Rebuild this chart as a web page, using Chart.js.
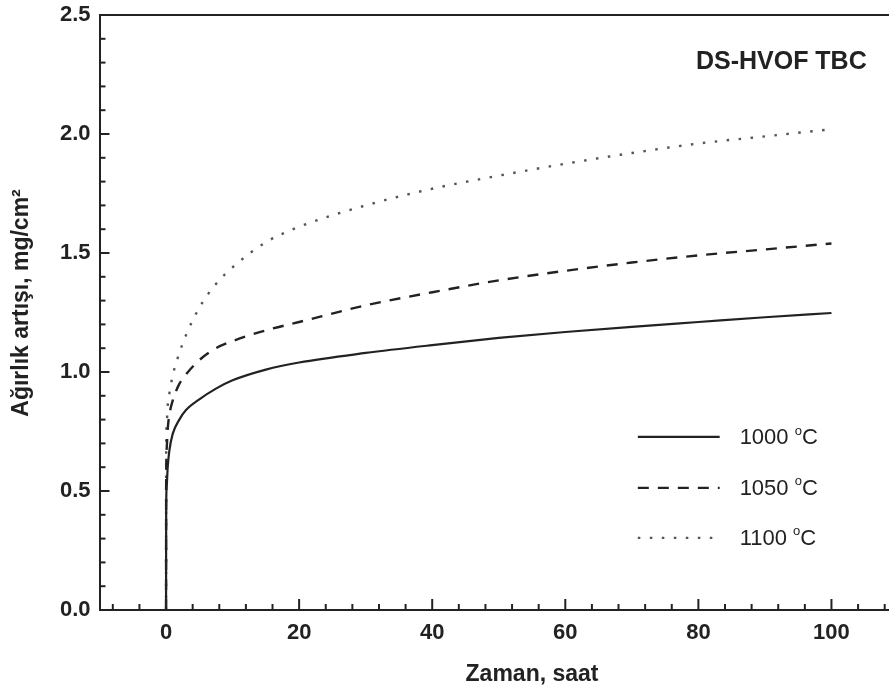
<!DOCTYPE html>
<html>
<head>
<meta charset="utf-8">
<script src="https://cdn.jsdelivr.net/npm/chart.js@4/dist/chart.umd.min.js"></script>
<style>
    html, body { margin: 0; padding: 0; background: #fff; overflow: hidden; }
    #wrap { width: 910px; height: 693px; }
</style>
</head>
<body>
<div id="wrap"><canvas id="oxChart" width="910" height="693"></canvas></div>
<script>
// oxidation time (hours)
const hours = [0, 0.02, 0.1, 0.25, 0.5, 1, 2, 3, 5, 7.5, 10, 15, 20, 30, 40, 50, 60, 70, 80, 90, 100];

// weight gain (mg/cm2) per temperature
const gain1000 = [0, 0.42, 0.52, 0.60, 0.67, 0.74, 0.80, 0.84, 0.885, 0.93, 0.965, 1.01, 1.04, 1.08, 1.113, 1.143, 1.168, 1.19, 1.21, 1.23, 1.248];
const gain1050 = [0, 0.55, 0.68, 0.76, 0.82, 0.88, 0.95, 0.99, 1.05, 1.10, 1.13, 1.175, 1.21, 1.28, 1.335, 1.385, 1.425, 1.46, 1.49, 1.515, 1.54];
const gain1100 = [0, 0.65, 0.78, 0.86, 0.91, 0.985, 1.08, 1.155, 1.27, 1.37, 1.44, 1.545, 1.61, 1.70, 1.77, 1.825, 1.875, 1.92, 1.96, 1.99, 2.02];

const tempLabels = ["1000", "1050", "1100"];
const xTickValues = [0, 20, 40, 60, 80, 100];
const yTickValues = [0, 0.5, 1.0, 1.5, 2.0, 2.5];

const FONT = "'Liberation Sans', Arial, sans-serif";
const INK = "#222";

function toPoints(ys) {
    return hours.map((h, i) => ({ x: h, y: ys[i] }));
}

const styles = [
    { color: "#222", dash: [], width: 2.2 },
    { color: "#222", dash: [11, 9], width: 2.4 },
    { color: "#555", dash: [2.5, 9.5], width: 2.4 }
];

const series = [gain1000, gain1050, gain1100];

// inward tick marks, top frame line, axis titles, caption and line legend
const framePlugin = {
    id: "frame",
    afterDraw(chart) {
        const ctx = chart.ctx;
        const area = chart.chartArea;
        const xs = chart.scales.x;
        const ys = chart.scales.y;
        ctx.save();
        ctx.strokeStyle = INK;
        ctx.lineWidth = 2;

        // top border
        ctx.beginPath();
        ctx.moveTo(area.left, area.top);
        ctx.lineTo(chart.width, area.top);
        ctx.stroke();

        // x ticks every 4 h, major every 20 h
        for (let v = -8; v <= 108; v += 4) {
            const px = xs.getPixelForValue(v);
            const len = v % 20 === 0 ? 11 : 6;
            ctx.beginPath();
            ctx.moveTo(px, area.bottom);
            ctx.lineTo(px, area.bottom - len);
            ctx.stroke();
        }
        // y ticks every 0.1, major every 0.5
        for (let k = 1; k < 25; k++) {
            const py = ys.getPixelForValue(k / 10);
            const len = k % 5 === 0 ? 10 : 6;
            ctx.beginPath();
            ctx.moveTo(area.left, py);
            ctx.lineTo(area.left + len, py);
            ctx.stroke();
        }

        ctx.fillStyle = INK;
        ctx.textBaseline = "middle";

        // axis titles (the frame runs on past the right edge, so centre them on the full frame)
        ctx.font = "bold 23px " + FONT;
        ctx.textAlign = "center";
        ctx.fillText("Zaman, saat", xs.getPixelForValue(55), 675);
        ctx.save();
        ctx.translate(22, ys.getPixelForValue(1.29));
        ctx.rotate(-Math.PI / 2);
        ctx.fillText("Ağırlık artışı, mg/cm²", 0, 0);
        ctx.restore();

        // caption
        ctx.font = "bold 25px " + FONT;
        ctx.textAlign = "right";
        ctx.fillText("DS-HVOF TBC", xs.getPixelForValue(105.3), ys.getPixelForValue(2.3));

        // legend
        const x0 = xs.getPixelForValue(70.9);
        const x1 = xs.getPixelForValue(83.2);
        const tx = xs.getPixelForValue(86.2);
        const rows = [0.727, 0.513, 0.303];
        rows.forEach((val, i) => {
            const py = ys.getPixelForValue(val);
            const st = styles[i];
            ctx.strokeStyle = st.color;
            ctx.lineWidth = st.width;
            ctx.setLineDash(st.dash);
            ctx.beginPath();
            ctx.moveTo(x0, py);
            ctx.lineTo(x1, py);
            ctx.stroke();
            ctx.setLineDash([]);

            ctx.textAlign = "left";
            ctx.fillStyle = INK;
            ctx.font = "22px " + FONT;
            const main = tempLabels[i] + " ";
            ctx.fillText(main, tx, py + 1);
            let cx = tx + ctx.measureText(main).width;
            ctx.font = "13px " + FONT;
            ctx.fillText("o", cx, py - 6);
            cx += ctx.measureText("o").width;
            ctx.font = "22px " + FONT;
            ctx.fillText("C", cx, py + 1);
        });
        ctx.restore();
    }
};

new Chart(document.getElementById("oxChart"), {
    type: "line",
    data: {
        datasets: series.map((ys, i) => ({
            label: tempLabels[i] + " °C",
            data: toPoints(ys),
            borderColor: styles[i].color,
            borderWidth: styles[i].width,
            borderDash: styles[i].dash,
            pointRadius: 0,
            cubicInterpolationMode: "monotone",
            fill: false
        }))
    },
    options: {
        responsive: false,
        animation: false,
        layout: { padding: { top: 15, right: 12, left: 0, bottom: 0 } },
        plugins: {
            legend: { display: false },
            tooltip: { enabled: false }
        },
        scales: {
            x: {
                type: "linear",
                min: -10,
                max: 110,
                afterBuildTicks: s => { s.ticks = xTickValues.map(v => ({ value: v })); },
                afterFit: s => { s.height = 83; s.paddingLeft = 0; s.paddingRight = 0; },
                grid: { display: false, drawTicks: false },
                border: { display: true, color: INK, width: 2 },
                ticks: {
                    color: INK,
                    padding: 10,
                    maxRotation: 0,
                    font: { family: FONT, size: 22, weight: "bold" }
                }
            },
            y: {
                min: 0,
                max: 2.5,
                afterBuildTicks: s => { s.ticks = yTickValues.map(v => ({ value: v })); },
                afterFit: s => { s.width = 99.5; s.paddingTop = 0; s.paddingBottom = 0; },
                grid: { display: false, drawTicks: false },
                border: { display: true, color: INK, width: 2 },
                ticks: {
                    color: INK,
                    padding: 9,
                    callback: v => v.toFixed(1),
                    font: { family: FONT, size: 22, weight: "bold" }
                }
            }
        }
    },
    plugins: [framePlugin]
});
</script>
</body>
</html>
